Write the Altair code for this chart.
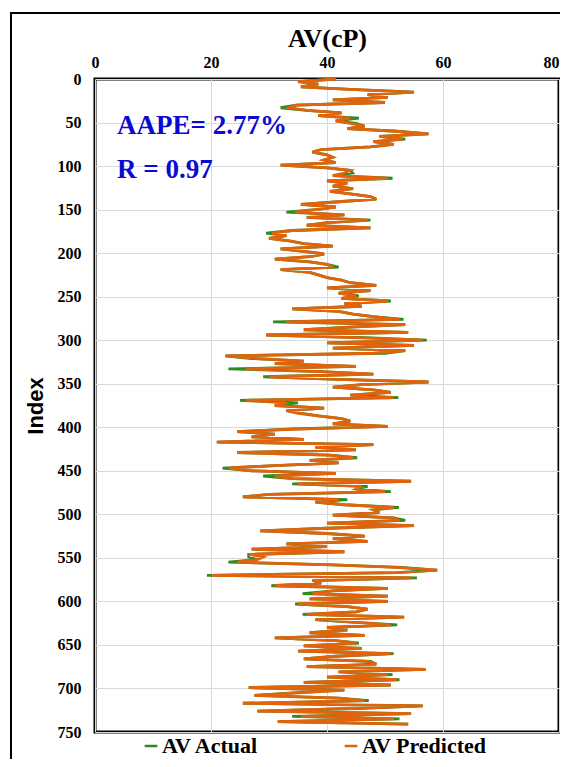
import altair as alt
import pandas as pd

# ---- data (index step 3) ----
predicted = [
    41.5, 35, 38.5, 35.5, 44, 55, 47, 50.5, 41, 50,
    34.7, 33.5, 36.5, 42.5, 38.5, 44, 41.5, 44, 46.5, 43.5,
    52, 57.5, 49, 53, 48, 51.5, 47.5, 39, 37.5, 40,
    41, 39.5, 41.5, 32, 40, 44, 43, 41, 50.5, 40,
    43.5, 41, 44.5, 40.5, 44, 47.5, 48.5, 42, 35.5, 41.5,
    38, 34.5, 43, 36.5, 47, 40, 36.5, 47.5, 34, 30.5,
    33, 30, 33.5, 36, 41, 32, 36, 39.5, 37, 31,
    37, 40, 41, 32, 37, 38.5, 40, 42.5, 44, 48.5,
    40, 47.5, 42, 45, 42.5, 50.5, 43, 46, 34, 42,
    44.5, 48, 52.5, 33, 53.5, 44, 36, 54, 29.5, 45,
    56.5, 40, 55, 41, 53.5, 48, 22.5, 28, 36, 31,
    45, 26, 39, 48, 30, 42, 57.5, 46, 41, 48,
    51, 44, 51.5, 26, 33, 31, 39.5, 33, 35, 38.5,
    42.5, 44, 41, 50.5, 35, 24.5, 31, 27, 36, 21,
    48, 38, 45, 24.5, 40.5, 44.5, 37, 42, 31, 23,
    27, 41.5, 31, 34, 54.5, 35, 46, 45, 50, 30,
    25.5, 42, 38, 43, 51.5, 48, 49, 41, 51.5, 52.5,
    40, 55, 40, 28.5, 40, 46.5, 41, 47, 33, 40,
    27, 43, 26.5, 29, 28, 24.5, 41, 52, 59, 52,
    20, 54.5, 37.5, 39, 31, 50.5, 41, 37.5, 50.5, 37,
    50.5, 35, 43.5, 47, 45, 36.5, 53.3, 38, 45, 51,
    40, 43.5, 37, 46.5, 31, 41.5, 45, 36, 46, 35,
    51, 41.5, 36, 47, 48.5, 36.5, 57, 42, 50.5, 40,
    52, 36, 51, 26.5, 43, 35, 27.5, 42, 46.5, 25.5,
    56.5, 44, 28, 54.5, 35.5, 51.5, 31.5, 54,
]
actual = [
    41.5, 35, 38.5, 35.5, 44, 55, 47, 50.5, 41, 50,
    34.7, 32, 36.5, 42.5, 38.5, 45.5, 41.5, 45, 46.5, 43.5,
    52, 57.5, 49, 53.5, 48, 51.5, 47.5, 39, 37.5, 40,
    41, 39.5, 41.5, 32, 40, 44, 44.4, 41, 51.3, 40,
    43.5, 41, 44.5, 40.5, 44, 47.5, 48.5, 42, 35.5, 41.5,
    38, 33, 43, 36.5, 47.5, 40, 36.5, 47.5, 34, 29.5,
    33, 30, 33.5, 36, 41, 32, 36, 39.5, 37, 31,
    37, 40, 42, 32, 37, 38.5, 40, 42.5, 44, 48.5,
    40, 47.5, 42, 45.5, 42.5, 51, 43, 46, 34, 42,
    44.5, 48, 53.2, 30.7, 53.5, 44, 36, 54, 29.5, 46.5,
    57.2, 40, 55, 41, 53.5, 50, 22.5, 27, 36, 31,
    45, 23, 39, 48, 29, 42, 57.5, 46, 41, 48,
    51, 44, 52.3, 25, 35, 31, 39.5, 33, 35.7, 38.5,
    42.5, 44, 41, 50.5, 34, 24.5, 31, 27, 36, 21,
    48, 38, 45, 24.5, 40.5, 45.2, 37, 42, 31, 22,
    27, 41.5, 29, 34, 54.5, 34, 47, 45, 51, 30,
    25.5, 43.5, 38, 43, 52.4, 48, 49, 41, 51.5, 53.5,
    40, 55, 40, 28.5, 40, 46.5, 41, 47, 33, 40,
    27, 43, 26.5, 26.5, 28, 23, 41, 52.7, 59, 52,
    19.3, 55.5, 37.5, 39, 30.4, 50.5, 41, 35.8, 50.5, 37,
    50.5, 34.5, 43.5, 47, 45, 35.8, 53.3, 38, 45, 52.1,
    40, 43.5, 37, 46.5, 31, 41.5, 45.5, 36, 46, 35,
    51.5, 41.5, 36, 47.5, 48.5, 36.5, 57, 42, 51.3, 40,
    52.5, 36, 51, 26.5, 43, 34.2, 27.5, 42, 47.2, 25.5,
    56.5, 45, 28, 54.5, 34, 52.5, 31.5, 54,
]
series_names = ["AV Actual", "AV Predicted"]
series_colors = ["#2E8B20", "#E3620C"]
x_ticks = [0, 20, 40, 60, 80]
y_ticks = [0, 50, 100, 150, 200, 250, 300, 350, 400, 450, 500, 550, 600, 650, 700, 750]
annotations = ["AAPE= 2.77%", "R = 0.97"]

index = [3 * i for i in range(len(predicted))]
df = pd.DataFrame({
    "idx": index + index,
    "value": actual + predicted,
    "series": [series_names[0]] * len(actual) + [series_names[1]] * len(predicted),
})

serif = "Liberation Serif"
sans = "Liberation Sans"

lines = alt.Chart(df).mark_line(strokeWidth=2.8).encode(
    x=alt.X(
        "value:Q",
        scale=alt.Scale(domain=[0, 80], nice=False),
        axis=alt.Axis(
            orient="top", values=x_ticks, title="AV(cP)", format="d",
            labelFont=serif, labelFontSize=16, labelFontWeight="bold", labelColor="black",
            labelPadding=9, labelFlush=False, ticks=False, domain=False,
            labelAlign=alt.ExprRef(expr="datum.value == 80 ? 'right' : 'center'"),
            titleFont=serif, titleFontSize=26, titleFontWeight="bold", titleColor="black",
            titlePadding=3, grid=True, gridColor="#d9d9d9", gridWidth=1,
        ),
    ),
    y=alt.Y(
        "idx:Q",
        scale=alt.Scale(domain=[0, 750], reverse=True, nice=False),
        axis=alt.Axis(
            values=y_ticks, title="Index", format="d",
            labelFont=serif, labelFontSize=16, labelFontWeight="bold", labelColor="black",
            labelPadding=14, labelFlush=False, labelOverlap=False, ticks=False, domain=False,
            titleFont=sans, titleFontSize=22, titleFontWeight="bold", titleColor="black",
            titlePadding=10, grid=True, gridColor="#d9d9d9", gridWidth=1,
        ),
    ),
    color=alt.Color(
        "series:N",
        scale=alt.Scale(domain=series_names, range=series_colors),
        legend=alt.Legend(
            title=None, orient="none", direction="horizontal",
            legendX=45, legendY=656,
            symbolType="stroke", symbolStrokeWidth=2.5, symbolSize=160,
            labelFont=serif, labelFontSize=22, labelFontWeight="bold", labelColor="black",
            labelOffset=0, columnPadding=80, padding=0,
        ),
    ),
    order="idx:Q",
)

one = pd.DataFrame({"k": [0]})

txt1 = alt.Chart(one).mark_text(
    align="left", baseline="middle", font=serif, fontSize=27, fontWeight="bold", color="#0a0ad2"
).encode(x=alt.value(22), y=alt.value(47), text=alt.value(annotations[0]))
txt2 = alt.Chart(one).mark_text(
    align="left", baseline="middle", font=serif, fontSize=27, fontWeight="bold", color="#0a0ad2"
).encode(x=alt.value(22), y=alt.value(91), text=alt.value(annotations[1]))

frame_left = alt.Chart(one).mark_rule(color="black", strokeWidth=2).encode(
    x=alt.value(-84), y=alt.value(-66), y2=alt.value(720)
)
frame_top = alt.Chart(one).mark_rule(color="black", strokeWidth=2).encode(
    x=alt.value(-85), x2=alt.value(480), y=alt.value(-66)
)

chart = alt.layer(lines, txt1, txt2, frame_left, frame_top).properties(
    width=464, height=653,
    autosize=alt.AutoSizeParams(type="none"),
    padding={"left": 87, "top": 71, "right": 1, "bottom": 27},
).configure_view(stroke="black", strokeWidth=3)

chart.save("out.html", embed_options={"renderer": "svg", "actions": False})
